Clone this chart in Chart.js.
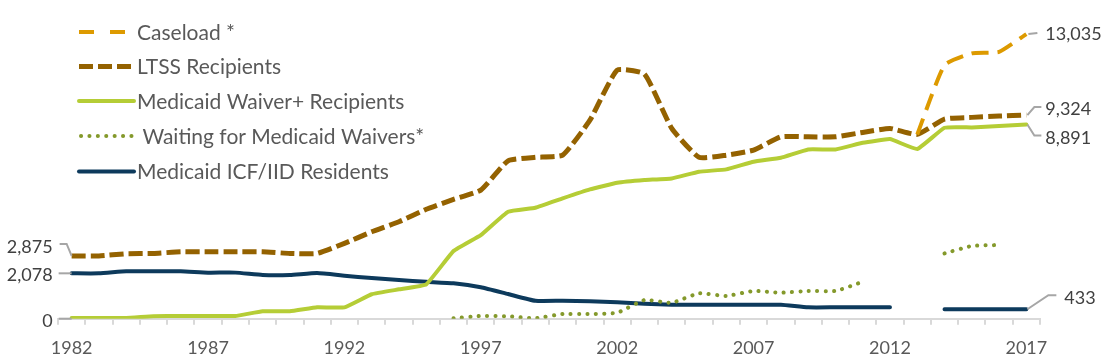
<!DOCTYPE html>
<html>
<head>
<meta charset="utf-8">
<script src="https://cdn.jsdelivr.net/npm/chart.js@4"></script>
<style>
  html, body { margin: 0; padding: 0; background: #fff; }
  #wrap { width: 1112px; height: 363px; position: relative; }
</style>
</head>
<body>
<div id="wrap"><canvas id="myChart"></canvas></div>
<script>
// years on the x axis
const years = ['1982','1983','1984','1985','1986','1987','1988','1989','1990','1991',
  '1992','1993','1994','1995','1996','1997','1998','1999','2000','2001',
  '2002','2003','2004','2005','2006','2007','2008','2009','2010','2011',
  '2012','2013','2014','2015','2016','2017'];

// series values
const caseload = [null,null,null,null,null,null,null,null,null,null,
  null,null,null,null,null,null,null,null,null,null,
  null,null,null,null,null,null,null,null,null,null,
  null,8440,11610,12150,12220,13035];
const ltss = [2875,2875,2975,2990,3065,3065,3065,3065,2990,2990,
  3450,3980,4440,5010,5465,5890,7230,7390,7490,9090,
  11380,11200,8715,7390,7490,7720,8330,8330,8330,8530,
  8715,8440,9140,9220,9280,9324];
const waiverRecipients = [30,30,30,110,125,125,125,340,340,520,
  520,1120,1345,1575,3100,3830,4900,5080,5510,5920,
  6225,6350,6425,6730,6840,7190,7370,7750,7750,8055,
  8225,7770,8745,8760,8820,8891];
const waiting = [null,null,null,null,null,null,null,null,null,null,
  null,null,null,null,20,125,110,20,215,215,
  275,855,730,1165,1040,1270,1190,1270,1270,1690,
  null,null,2990,3330,3375,null];
const icfResidents = [2078,2078,2170,2170,2170,2110,2110,2000,2000,2090,
  1970,1860,1770,1690,1620,1440,1130,820,820,800,
  750,680,640,640,640,640,640,520,520,520,
  520,null,433,433,433,433];

// labels at the left (first year) and right (last year)
const leftLabels = [
  { series: 'ltss', text: '2,875' },
  { series: 'icf', text: '2,078' },
  { series: 'zero', text: '0' }
];
const rightLabels = [
  { series: 'caseload', text: '13,035' },
  { series: 'ltss', text: '9,324' },
  { series: 'waiver', text: '8,891' },
  { series: 'icf', text: '433' }
];

const FONT = 'Lato, "Open Sans", sans-serif';
const GREY_LINE = '#a6a6a6';
const TEXT = '#404040';

// draw legend inside the plot (top left)
const legendPlugin = {
  id: 'insideLegend',
  afterDatasetsDraw(chart) {
    const ctx = chart.ctx;
    const rows = [32, 66.5, 101, 136, 171.5];
    ctx.save();
    chart.data.datasets.forEach((ds, i) => {
      const y = rows[i];
      ctx.beginPath();
      ctx.strokeStyle = ds.borderColor;
      ctx.lineWidth = ds.borderWidth;
      ctx.lineCap = ds.borderCapStyle || 'butt';
      ctx.setLineDash(ds.legendDash || ds.borderDash || []);
      ctx.moveTo(ds.legendStart || 79, y);
      ctx.lineTo(134, y);
      ctx.stroke();
      ctx.setLineDash([]);
      ctx.fillStyle = '#595959';
      ctx.font = '21px ' + FONT;
      ctx.textBaseline = 'middle';
      ctx.textAlign = 'left';
      ctx.fillText(ds.label, 137, y + 1);
    });
    ctx.restore();
  }
};

// callout labels with little grey leader lines
const calloutPlugin = {
  id: 'callouts',
  afterDatasetsDraw(chart) {
    const ctx = chart.ctx;
    const xs = chart.scales.x, ys = chart.scales.y;
    const last = years.length - 1;
    const val = { caseload: caseload, ltss: ltss, waiver: waiverRecipients, icf: icfResidents };
    ctx.save();
    ctx.strokeStyle = GREY_LINE;
    ctx.lineWidth = 2;
    ctx.fillStyle = TEXT;
    ctx.font = '18px ' + FONT;
    ctx.textBaseline = 'middle';

    // left side
    const x0 = xs.getPixelForValue(0);
    ctx.textAlign = 'right';
    leftLabels.forEach(l => {
      const v = l.series === 'zero' ? 0 : val[l.series][0];
      const y = ys.getPixelForValue(v);
      ctx.beginPath();
      if (l.series === 'ltss') {
        ctx.moveTo(x0, y);
        ctx.lineTo(x0 - 5, y - 12);
        ctx.lineTo(x0 - 12, y - 12);
        ctx.stroke();
        ctx.fillText(l.text, x0 - 19, y - 9);
      } else {
        ctx.moveTo(x0, y);
        ctx.lineTo(x0 - 13, y);
        ctx.stroke();
        ctx.fillText(l.text, x0 - 19, y + 2);
      }
    });

    // right side
    const x1 = xs.getPixelForValue(last);
    ctx.textAlign = 'left';
    rightLabels.forEach(l => {
      const y = ys.getPixelForValue(val[l.series][last]);
      ctx.beginPath();
      if (l.series === 'caseload') {
        ctx.moveTo(x1 + 2, y);
        ctx.lineTo(x1 + 11, y - 1);
        ctx.stroke();
        ctx.fillText(l.text, x1 + 19, y);
      } else if (l.series === 'ltss') {
        ctx.moveTo(x1 + 1, y);
        ctx.lineTo(x1 + 8, y - 8);
        ctx.lineTo(x1 + 15, y - 8);
        ctx.stroke();
        ctx.fillText(l.text, x1 + 19, y - 6);
      } else if (l.series === 'waiver') {
        ctx.moveTo(x1 + 1, y);
        ctx.lineTo(x1 + 8, y + 11);
        ctx.lineTo(x1 + 15, y + 11);
        ctx.stroke();
        ctx.fillText(l.text, x1 + 19, y + 14);
      } else {
        ctx.moveTo(x1 + 1, y);
        ctx.lineTo(x1 + 22, y - 14);
        ctx.lineTo(x1 + 30, y - 14);
        ctx.stroke();
        ctx.fillText(l.text, x1 + 38, y - 11);
      }
    });
    ctx.restore();
  }
};

const ctx = document.getElementById('myChart');
new Chart(ctx, {
  type: 'line',
  data: {
    labels: years,
    datasets: [
      {
        label: 'Caseload *',
        data: caseload,
        borderColor: '#dd9a00',
        borderWidth: 4,
        borderDash: [17, 9],
        legendDash: [15, 16],
        pointRadius: 0,
        tension: 0.15
      },
      {
        label: 'LTSS Recipients',
        data: ltss,
        borderColor: '#946200',
        borderWidth: 5,
        borderDash: [14, 5],
        pointRadius: 0,
        tension: 0.15
      },
      {
        label: 'Medicaid Waiver+ Recipients',
        data: waiverRecipients,
        borderColor: '#b5cd36',
        borderWidth: 4,
        borderCapStyle: 'round',
        pointRadius: 0,
        tension: 0.1
      },
      {
        label: ' Waiting for Medicaid Waivers*',
        data: waiting,
        borderColor: '#84992b',
        borderWidth: 4,
        borderCapStyle: 'round',
        borderDash: [0.1, 8.3],
        legendStart: 81,
        pointRadius: 0,
        tension: 0.15
      },
      {
        label: 'Medicaid ICF/IID Residents',
        data: icfResidents,
        borderColor: '#0d3a5c',
        borderWidth: 4,
        borderCapStyle: 'round',
        pointRadius: 0,
        tension: 0.15
      }
    ]
  },
  options: {
    responsive: true,
    maintainAspectRatio: false,
    animation: false,
    spanGaps: false,
    layout: { padding: { left: 58, right: 72, top: 13, bottom: 0 } },
    plugins: {
      legend: { display: false },
      tooltip: { enabled: false }
    },
    scales: {
      x: {
        offset: true,
        grid: {
          offset: true,
          drawOnChartArea: false,
          drawTicks: true,
          tickLength: 6,
          color: '#d9d9d9',
          lineWidth: 2
        },
        border: { display: true, color: '#d9d9d9', width: 2 },
        ticks: {
          autoSkip: false,
          maxRotation: 0,
          padding: 13,
          color: '#595959',
          font: { family: FONT, size: 18 },
          callback: function(value, index) {
            return (index % 5 === 0) ? years[index] : '';
          }
        },
        afterFit: function(scale) { scale.height = 44.3; }
      },
      y: {
        display: false,
        min: 0,
        max: 14000
      }
    }
  },
  plugins: [legendPlugin, calloutPlugin]
});
</script>
</body>
</html>
